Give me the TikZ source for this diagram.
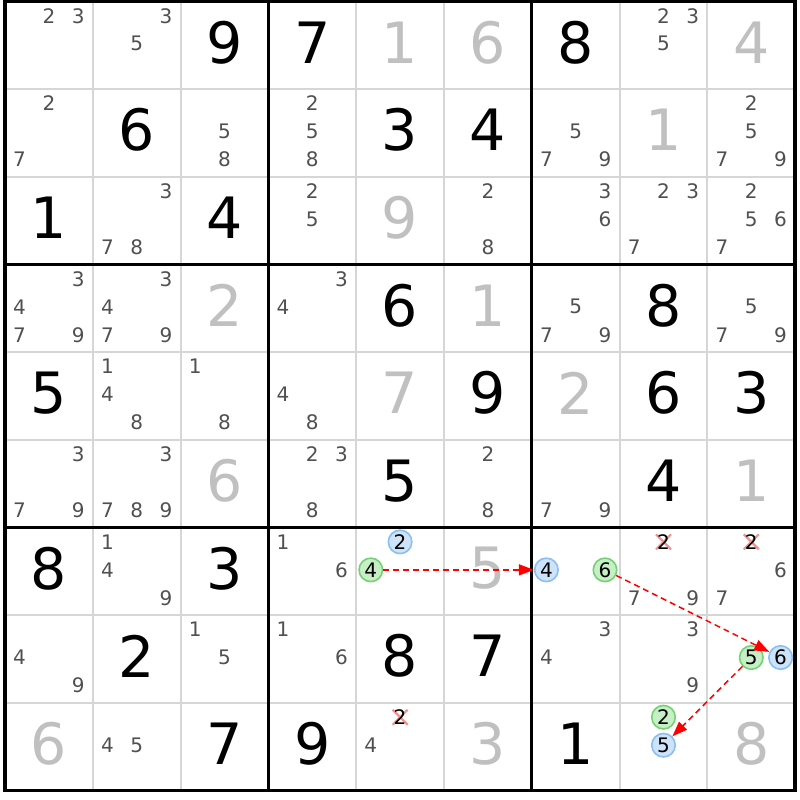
\documentclass[tikz,border=0pt]{standalone}
\usepackage{fontspec}
\setmainfont{DejaVu Sans}
\usetikzlibrary{arrows.meta}
\definecolor{candgray}{HTML}{505050}
\definecolor{solvedgray}{HTML}{C0C0C0}
\definecolor{thingrid}{HTML}{D6D6D6}
\definecolor{grnfill}{HTML}{C6EFC6}
\definecolor{grndraw}{HTML}{74D274}
\definecolor{blufill}{HTML}{CCE3FA}
\definecolor{bludraw}{HTML}{8CBEF0}
\definecolor{xpink}{HTML}{F09090}
\tikzset{
  given/.style={inner sep=0pt, font=\fontsize{57}{60}\selectfont, text=black},
  solved/.style={given, text=solvedgray},
  cand/.style={inner sep=0pt, font=\fontsize{20}{21}\selectfont, text=candgray},
  gcirc/.style={circle, draw=grndraw, fill=grnfill, line width=1.6pt, minimum size=23.5pt, inner sep=0pt, font=\fontsize{20}{21}\selectfont, text=black},
  bcirc/.style={gcirc, draw=bludraw, fill=blufill},
  xdigit/.style={cand, text=black},
  xmark/.style={draw=xpink, line width=2.2pt},
  link/.style={draw=red, line width=1.5pt, dash pattern=on 6pt off 4pt, -{Triangle[length=15pt,width=11pt]}},
  thinline/.style={draw=thingrid, line width=2pt},
  thickline/.style={draw=black, line width=3pt},
}
\newcommand\sdkpos[2]{%
  \pgfmathsetmacro\px{5+87.8*(#2-0.5)}%
  \pgfmathsetmacro\py{1.5+87.67*(#1-0.5)}}
\newcommand\sdkoff[3]{%
  \sdkpos{#1}{#2}%
  \pgfmathsetmacro\qx{\px+29.3*(mod(#3-1,3)-1)}%
  \pgfmathsetmacro\qy{\py+28*(int((#3-1)/3)-1)-1.5}}
\newcommand\sdkgiven[3]{\sdkpos{#1}{#2}\node[given] (g#1#2) at (\px,\py-3) {#3};}
\newcommand\sdksolved[3]{\sdkpos{#1}{#2}\node[solved] (s#1#2) at (\px,\py-3) {#3};}
\newcommand\sdkcand[3]{\foreach \d in {#3}{\sdkoff{#1}{#2}{\d}\node[cand] (c#1#2\d) at (\qx,\qy) {\d};}}
\newcommand\sdkcross[3]{\sdkoff{#1}{#2}{#3}%
  \draw[xmark] (\qx-7.5,\qy-7.5) -- (\qx+7.5,\qy+7.5) (\qx-7.5,\qy+7.5) -- (\qx+7.5,\qy-7.5);
  \node[xdigit] (x#1#2#3) at (\qx,\qy) {#3};}
\newcommand\sdkgreen[3]{\sdkoff{#1}{#2}{#3}\node[gcirc] (gn#1#2#3) at (\qx,\qy) {#3};}
\newcommand\sdkblue[3]{\sdkoff{#1}{#2}{#3}\node[bcirc] (bl#1#2#3) at (\qx,\qy) {#3};}
\begin{document}
\begin{tikzpicture}[x=1pt,y=-1pt]
\useasboundingbox (0,0) rectangle (800,800);
\fill[white] (0,0) rectangle (800,800);
% grid
\foreach \i in {1,2,4,5,7,8}{
  \draw[thinline] ({5+87.8*\i},1.5) -- ({5+87.8*\i},790.5);
  \draw[thinline] (5,{1.5+87.67*\i}) -- (795.2,{1.5+87.67*\i});
}
\foreach \i in {3,6}{
  \draw[thickline] ({5+87.8*\i},1.5) -- ({5+87.8*\i},790.5);
  \draw[thickline] (5,{1.5+87.67*\i}) -- (795.2,{1.5+87.67*\i});
}
\draw[thickline, line width=3.5pt] (5,1.5) rectangle (795.2,790.5);
% givens
\sdkgiven{1}{3}{9}\sdkgiven{1}{4}{7}\sdkgiven{1}{7}{8}
\sdkgiven{2}{2}{6}\sdkgiven{2}{5}{3}\sdkgiven{2}{6}{4}
\sdkgiven{3}{1}{1}\sdkgiven{3}{3}{4}
\sdkgiven{4}{5}{6}\sdkgiven{4}{8}{8}
\sdkgiven{5}{1}{5}\sdkgiven{5}{6}{9}\sdkgiven{5}{8}{6}\sdkgiven{5}{9}{3}
\sdkgiven{6}{5}{5}\sdkgiven{6}{8}{4}
\sdkgiven{7}{1}{8}\sdkgiven{7}{3}{3}
\sdkgiven{8}{2}{2}\sdkgiven{8}{5}{8}\sdkgiven{8}{6}{7}
\sdkgiven{9}{3}{7}\sdkgiven{9}{4}{9}\sdkgiven{9}{7}{1}
% solved
\sdksolved{1}{5}{1}\sdksolved{1}{6}{6}\sdksolved{1}{9}{4}
\sdksolved{2}{8}{1}
\sdksolved{3}{5}{9}
\sdksolved{4}{3}{2}\sdksolved{4}{6}{1}
\sdksolved{5}{5}{7}\sdksolved{5}{7}{2}
\sdksolved{6}{3}{6}\sdksolved{6}{9}{1}
\sdksolved{7}{6}{5}
\sdksolved{9}{1}{6}\sdksolved{9}{6}{3}\sdksolved{9}{9}{8}
% candidates
\sdkcand{1}{1}{2,3}\sdkcand{1}{2}{3,5}\sdkcand{1}{8}{2,3,5}
\sdkcand{2}{1}{2,7}\sdkcand{2}{3}{5,8}\sdkcand{2}{4}{2,5,8}\sdkcand{2}{7}{5,7,9}\sdkcand{2}{9}{2,5,7,9}
\sdkcand{3}{2}{3,7,8}\sdkcand{3}{4}{2,5}\sdkcand{3}{6}{2,8}\sdkcand{3}{7}{3,6}\sdkcand{3}{8}{2,3,7}\sdkcand{3}{9}{2,5,6,7}
\sdkcand{4}{1}{3,4,7,9}\sdkcand{4}{2}{3,4,7,9}\sdkcand{4}{4}{3,4}\sdkcand{4}{7}{5,7,9}\sdkcand{4}{9}{5,7,9}
\sdkcand{5}{2}{1,4,8}\sdkcand{5}{3}{1,8}\sdkcand{5}{4}{4,8}
\sdkcand{6}{1}{3,7,9}\sdkcand{6}{2}{3,7,8,9}\sdkcand{6}{4}{2,3,8}\sdkcand{6}{6}{2,8}\sdkcand{6}{7}{7,9}
\sdkcand{7}{2}{1,4,9}\sdkcand{7}{4}{1,6}\sdkcand{7}{8}{7,9}\sdkcand{7}{9}{6,7}
\sdkcand{8}{1}{4,9}\sdkcand{8}{3}{1,5}\sdkcand{8}{4}{1,6}\sdkcand{8}{7}{3,4}\sdkcand{8}{8}{3,9}
\sdkcand{9}{2}{4,5}\sdkcand{9}{5}{4}
% eliminated
\sdkcross{7}{8}{2}\sdkcross{7}{9}{2}\sdkcross{9}{5}{2}
% highlighted candidates
\sdkblue{7}{5}{2}\sdkgreen{7}{5}{4}
\sdkblue{7}{7}{4}\sdkgreen{7}{7}{6}
\sdkgreen{8}{9}{5}\sdkblue{8}{9}{6}
\sdkgreen{9}{8}{2}\sdkblue{9}{8}{5}
% links
\draw[link] (gn754) -- (bl774);
\draw[link] (gn776) -- (bl896);
\draw[link] (gn895) -- (bl985);
\end{tikzpicture}
\end{document}
